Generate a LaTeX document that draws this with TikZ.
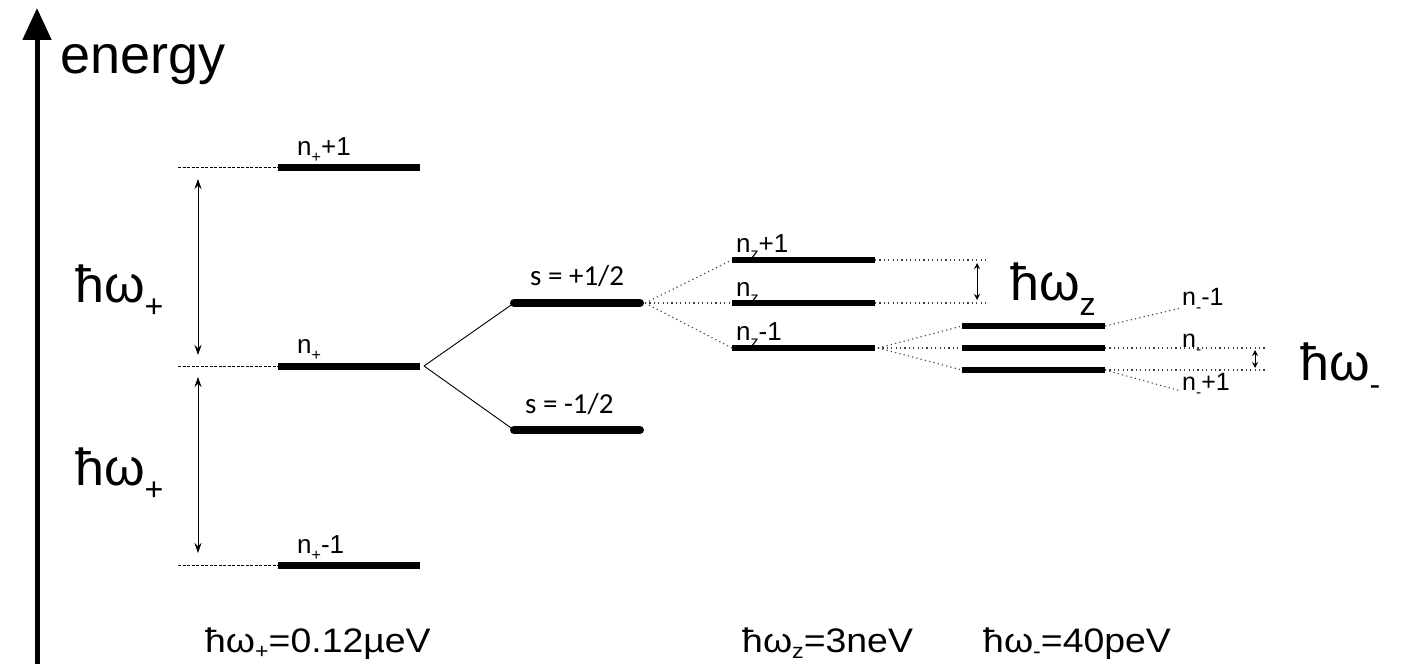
\documentclass[tikz,border=0pt]{standalone}
\usepackage{fontspec}
\setmainfont{Liberation Sans}
\newfontfamily\carlfont{Carlito}
\newfontfamily\widefont[FakeStretch=1.1]{Liberation Sans}
\usetikzlibrary{arrows.meta}
\newcommand\lsub[1]{\raisebox{-0.3em}{\scalebox{0.62}{#1}}}
\newcommand\bsub[1]{\raisebox{-0.2em}{\scalebox{0.62}{#1}}}
\begin{document}
\begin{tikzpicture}[x=1pt,y=-1pt,
  level/.style={line width=7pt},
  smalllevel/.style={line width=6pt},
  spinlevel/.style={line width=8pt,line cap=round},
  guide/.style={line width=0.8pt,dash pattern=on 3pt off 1.5pt},
  dotline/.style={line width=1.1pt,dash pattern=on 1.2pt off 3.2pt,black!75},
  split/.style={line width=0.9pt},
  gap/.style={line width=0.9pt,{Stealth[length=10pt,width=7pt]}-{Stealth[length=10pt,width=7pt]}},
  smallgap/.style={line width=0.9pt,{Stealth[length=6pt,width=6pt]}-{Stealth[length=6pt,width=6pt]}},
  lab/.style={font=\fontsize{26}{28}\selectfont,inner sep=0pt,anchor=base west},
  spinlab/.style={font=\carlfont\fontsize{29}{32}\selectfont,inner sep=0pt,anchor=base west},
  biglab/.style={font=\fontsize{52}{56}\selectfont,inner sep=0pt,anchor=base west},
  botlab/.style={font=\widefont\fontsize{34}{38}\selectfont,inner sep=0pt,anchor=base west}]
\useasboundingbox (0,0) rectangle (1404,666);
% axis
\coordinate (axb) at (37,664);
\coordinate (axt) at (37,8);
\draw[line width=5pt,-{Triangle[length=32pt,width=28pt]}] (axb) -- (axt);
\node[biglab,font=\fontsize{54}{58}\selectfont] (energy) at (60,74) {energy};
% n+ levels
\coordinate (g1) at (178,167); \coordinate (a1) at (278,167); \coordinate (b1) at (420,167);
\coordinate (g0) at (178,366); \coordinate (a0) at (278,366); \coordinate (b0) at (420,366);
\coordinate (gm) at (178,565); \coordinate (am) at (278,565); \coordinate (bm) at (420,565);
\draw[guide] (g1) -- (a1); \draw[guide] (g0) -- (a0); \draw[guide] (gm) -- (am);
\draw[level] (a1) -- (b1); \draw[level] (a0) -- (b0); \draw[level] (am) -- (bm);
\node[lab] (l1) at (297,155) {n\lsub{+}+1};
\node[lab] (l0) at (297,353) {n\lsub{+}};
\node[lab] (lm) at (297,553) {n\lsub{+}-1};
\coordinate (u1) at (198,179); \coordinate (u2) at (198,355);
\coordinate (d1) at (198,377); \coordinate (d2) at (198,553);
\draw[gap] (u1) -- (u2); \draw[gap] (d1) -- (d2);
\node[biglab] (hwp1) at (75,302) {ħω\lsub{+}};
\node[biglab] (hwp2) at (75,485) {ħω\lsub{+}};
% spin
\coordinate (sp0) at (424,366);
\coordinate (spa) at (514,303); \coordinate (spb) at (640,303);
\coordinate (sma) at (514,430); \coordinate (smb) at (640,430);
\draw[split] (sp0) -- (spa); \draw[split] (sp0) -- (sma);
\draw[spinlevel] (spa) -- (spb); \draw[spinlevel] (sma) -- (smb);
\node[spinlab] (slp) at (530,285) {s = +1/2};
\node[spinlab] (slm) at (525,413) {s = -1/2};
% nz levels
\coordinate (zs) at (645,303);
\coordinate (z1a) at (732,260); \coordinate (z1b) at (875,260);
\coordinate (z0a) at (732,303); \coordinate (z0b) at (875,303);
\coordinate (zma) at (732,348); \coordinate (zmb) at (875,348);
\draw[dotline] (zs) -- (z1a); \draw[dotline] (zs) -- (z0a); \draw[dotline] (zs) -- (zma);
\draw[smalllevel] (z1a) -- (z1b); \draw[smalllevel] (z0a) -- (z0b); \draw[smalllevel] (zma) -- (zmb);
\node[lab] (lz1) at (736,252) {n\lsub{z}+1};
\node[lab] (lz0) at (736,296) {n\lsub{z}};
\node[lab] (lzm) at (736,340) {n\lsub{z}-1};
\coordinate (z1e) at (987,260); \coordinate (z0e) at (987,303);
\draw[dotline] (z1b) -- (z1e); \draw[dotline] (z0b) -- (z0e);
\coordinate (za1) at (977,263); \coordinate (za2) at (977,300);
\draw[smallgap] (za1) -- (za2);
\node[biglab] (hwz) at (1010,300) {ħω\lsub{z}};
% n- levels
\coordinate (ms) at (878,348);
\coordinate (m1a) at (962,326); \coordinate (m1b) at (1105,326);
\coordinate (m0a) at (962,348); \coordinate (m0b) at (1105,348);
\coordinate (mma) at (962,370); \coordinate (mmb) at (1105,370);
\draw[dotline] (ms) -- (m1a); \draw[dotline] (ms) -- (m0a); \draw[dotline] (ms) -- (mma);
\draw[smalllevel] (m1a) -- (m1b); \draw[smalllevel] (m0a) -- (m0b); \draw[smalllevel] (mma) -- (mmb);
\coordinate (m1e) at (1181,308); \coordinate (m0e) at (1267,348);
\coordinate (mme) at (1267,370); \coordinate (mmd) at (1181,391);
\draw[dotline] (m1b) -- (m1e); \draw[dotline] (m0b) -- (m0e);
\draw[dotline] (mmb) -- (mme); \draw[dotline] (mmb) -- (mmd);
\node[lab,font=\fontsize{25}{27}\selectfont] (ln1) at (1182,305) {n\lsub{-}-1};
\node[lab,font=\fontsize{25}{27}\selectfont] (ln0) at (1182,347) {n\lsub{-}};
\node[lab,font=\fontsize{25}{27}\selectfont] (lnm) at (1182,390) {n\lsub{-}+1};
\coordinate (na1) at (1255,350); \coordinate (na2) at (1255,368);
\draw[smallgap] (na1) -- (na2);
\node[biglab] (hwm) at (1300,380) {ħω\lsub{-}};
% bottom
\node[botlab] (bp) at (205,652) {ħω\bsub{+}=0.12µeV};
\node[botlab] (bz) at (742,652) {ħω\bsub{z}=3neV};
\node[botlab] (bm) at (983,652) {ħω\bsub{-}=40peV};
\end{tikzpicture}
\end{document}
